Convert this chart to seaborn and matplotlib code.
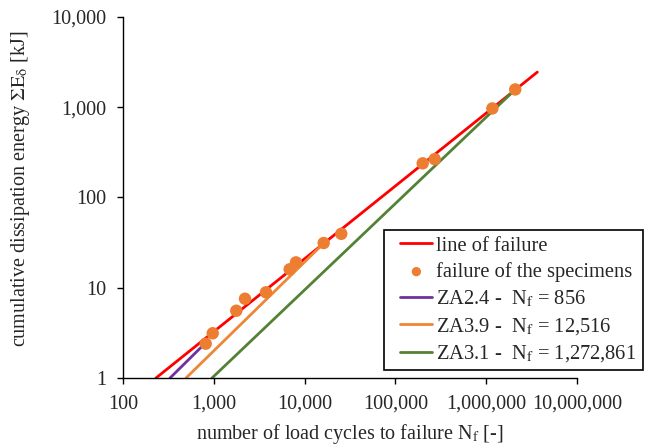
import matplotlib
matplotlib.use("Agg")
import matplotlib.pyplot as plt
import matplotlib.ticker as mticker
from matplotlib.collections import PathCollection
from matplotlib.legend_handler import HandlerLine2D, HandlerPathCollection
from matplotlib.lines import Line2D
import pandas as pd
import seaborn as sns

# line of failure (end points)
failure_n = [231, 3660000]
failure_e = [1.0, 2450]

# failure of the specimens
spec_n = [815, 973, 1770, 2206, 3758, 6855, 8040, 16230, 25360,
          200000, 271000, 1170000, 2090000]
spec_e = [2.40, 3.13, 5.56, 7.55, 8.9, 16.0, 19.1, 31.3, 39.6,
          239, 266, 970, 1574]

# single test curves
za24_n = [330, 745]
za24_e = [1.0, 2.25]
za39_n = [495, 14860]
za39_e = [1.0, 28.5]
za31_n = [957, 1950000]
za31_e = [1.0, 1470]

x_ticks = [100, 1000, 10000, 100000, 1000000, 10000000]
y_ticks = [1, 10, 100, 1000, 10000]


def main():
    sns.set_style("ticks")
    plt.rcParams["font.family"] = ["Liberation Serif", "DejaVu Serif"]
    plt.rcParams["mathtext.fontset"] = "stix"
    plt.rcParams["font.size"] = 14.5

    fig = plt.figure(figsize=(6.49, 4.46), dpi=100)
    ax = fig.add_axes([0.1895, 0.1525, 0.6995, 0.8094])

    lines = [
        (failure_n, failure_e, "#FF0000", "line of failure"),
        (za24_n, za24_e, "#7030A0", r"ZA2.4 -  N$_\mathrm{f}$ = 856"),
        (za39_n, za39_e, "#F08536", r"ZA3.9 -  N$_\mathrm{f}$ = 12,516"),
        (za31_n, za31_e, "#548235", r"ZA3.1 -  N$_\mathrm{f}$ = 1,272,861"),
    ]
    for n, e, color, label in lines:
        df = pd.DataFrame({"n": n, "e": e})
        sns.lineplot(data=df, x="n", y="e", color=color, linewidth=2.0,
                     ax=ax, label=label, zorder=2)

    spec = pd.DataFrame({"n": spec_n, "e": spec_e})
    sns.scatterplot(data=spec, x="n", y="e", color="#ED7D31", s=80,
                    edgecolor="none", ax=ax, zorder=3,
                    label="failure of the specimens")

    ax.set_xscale("log")
    ax.set_yscale("log")
    ax.set_xlim(100, 10000000)
    ax.set_ylim(1, 10000)
    ax.set_xticks(x_ticks)
    ax.set_yticks(y_ticks)
    fmt = mticker.FuncFormatter(lambda v, p: f"{v:,.0f}")
    ax.xaxis.set_major_formatter(fmt)
    ax.yaxis.set_major_formatter(fmt)
    ax.xaxis.set_minor_locator(mticker.NullLocator())
    ax.yaxis.set_minor_locator(mticker.NullLocator())
    ax.tick_params(axis="both", length=4, width=1, color="black",
                   labelsize=14.5, direction="out")
    ax.tick_params(axis="x", pad=8)
    ax.tick_params(axis="y", pad=8)
    for side in ["left", "bottom"]:
        ax.spines[side].set_color("black")
        ax.spines[side].set_linewidth(1)
    sns.despine(ax=ax)

    ax.set_xlabel(r"number of load cycles to failure N$_\mathrm{f}$ [-]",
                  fontsize=14.5, labelpad=6)
    ax.set_ylabel(r"cumulative dissipation energy $\mathrm{\Sigma E_{\delta}}$ [kJ]",
                  fontsize=14.5)
    ax.yaxis.set_label_coords(-0.200, 0.525)

    h, l = ax.get_legend_handles_labels()
    order = ["line of failure", "failure of the specimens"] + [x[3] for x in lines[1:]]
    by_label = dict(zip(l, h))
    leg = ax.legend([by_label[k] for k in order], order,
                    loc="upper left", bbox_to_anchor=(384 / 649, 1 - 230 / 446),
                    bbox_transform=fig.transFigure, borderaxespad=0,
                    frameon=True, fancybox=False, fontsize=14.8,
                    handlelength=2.05, handletextpad=0.2, labelspacing=0.32,
                    borderpad=0.3, markerscale=0.75,
                    handler_map={Line2D: HandlerLine2D(xpad=0.5),
                                 PathCollection: HandlerPathCollection(xpad=0.5)})
    leg.get_frame().set_edgecolor("black")
    leg.get_frame().set_linewidth(1.2)
    leg.get_frame().set_alpha(1)

    fig.savefig("out.png", dpi=100)


if __name__ == "__main__":
    main()
